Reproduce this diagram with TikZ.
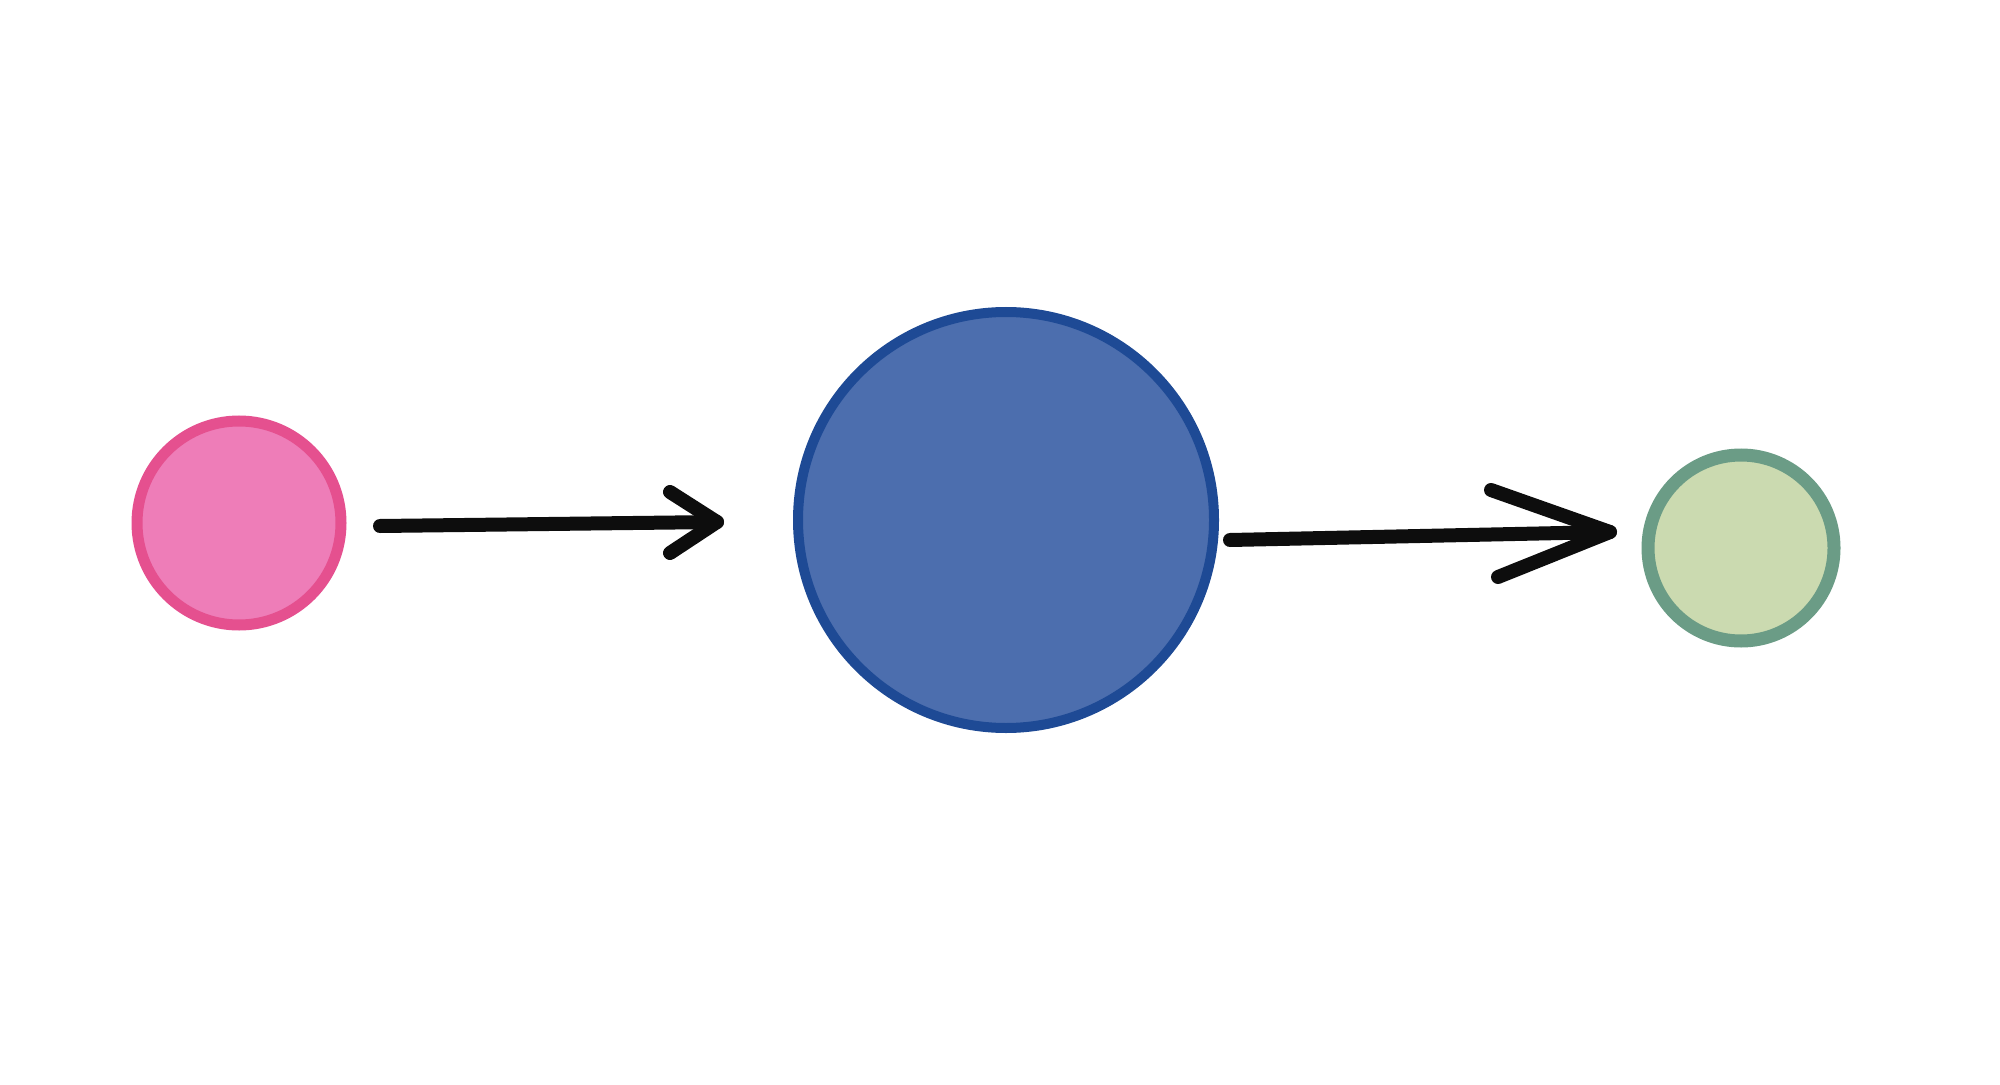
\documentclass[tikz,border=0pt]{standalone}
\usetikzlibrary{calc}
\definecolor{pinkfill}{HTML}{EE7DB8}
\definecolor{pinkline}{HTML}{E5508F}
\definecolor{bluefill}{HTML}{4C6EAE}
\definecolor{blueline}{HTML}{1E4A95}
\definecolor{greenfill}{HTML}{CBDAB0}
\definecolor{greenline}{HTML}{6B9C86}
\begin{document}
\begin{tikzpicture}[x=0.5pt,y=-0.5pt,
  ball/.style={circle, inner sep=0pt, outer sep=0pt},
  arrowline/.style={draw=black!95, line width=7pt, line cap=round, line join=round}]
\useasboundingbox[fill=white] (0,0) rectangle (2000,1085);
\node[ball, fill=pinkfill, draw=pinkline, line width=5.5pt, minimum size=102pt] (pink) at (239,523) {};
\node[ball, fill=bluefill, draw=blueline, line width=5pt, minimum size=208pt] (blue) at (1006,520) {};
\node[ball, fill=greenfill, draw=greenline, line width=6.5pt, minimum size=93pt] (green) at (1741,548) {};
% arrow 1
\coordinate (a1s) at (380,526);
\coordinate (a1t) at (717,522);
\coordinate (a1u) at (670,492);
\coordinate (a1d) at (670,553);
\draw[arrowline] (a1s) -- (a1t);
\draw[arrowline] (a1u) -- (a1t) -- (a1d);
% arrow 2
\coordinate (a2s) at (1230,540);
\coordinate (a2t) at (1610,532);
\coordinate (a2u) at (1491,490);
\coordinate (a2d) at (1498,577);
\draw[arrowline] (a2s) -- (a2t);
\draw[arrowline] (a2u) -- (a2t) -- (a2d);
\end{tikzpicture}
\end{document}
